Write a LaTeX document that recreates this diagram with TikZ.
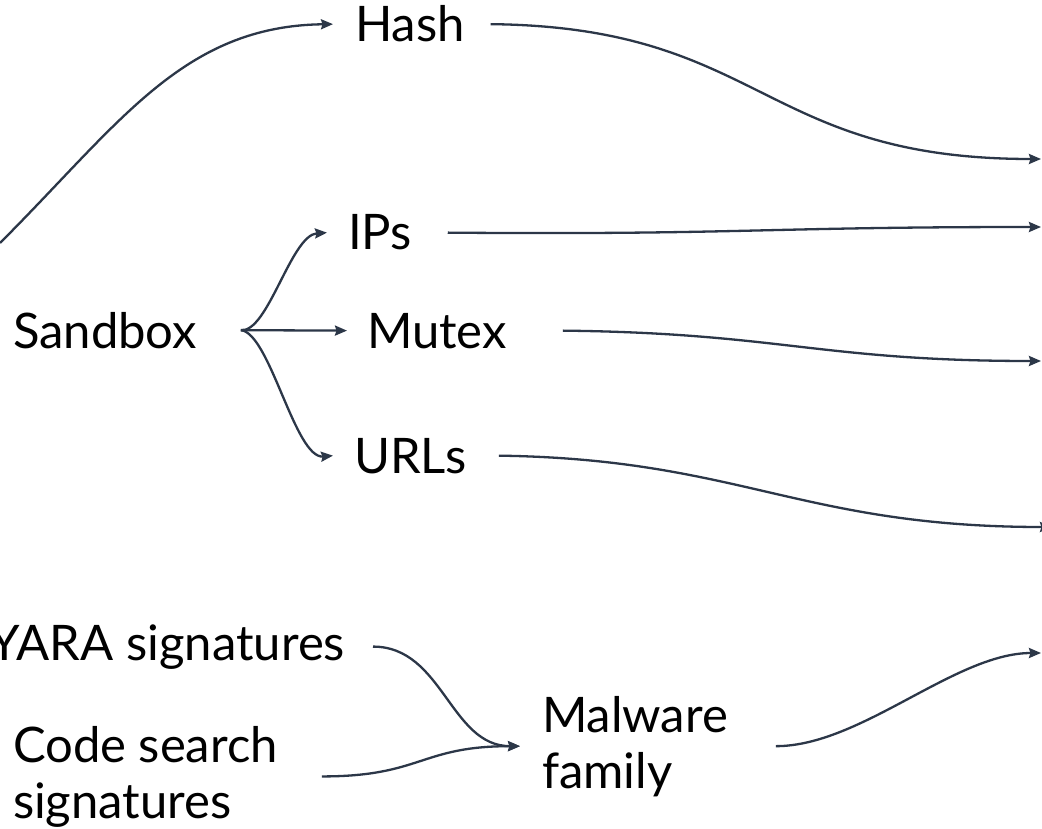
\documentclass[tikz,border=0pt]{standalone}
\usepackage{fontspec}
\setmainfont{Lato}
\usetikzlibrary{arrows.meta}
\definecolor{edgecol}{RGB}{44,55,72}
\begin{document}
\begin{tikzpicture}[x=1pt,y=-1pt,
  lbl/.style={inner sep=0pt,outer sep=0pt,font=\fontsize{49}{56}\selectfont,text=black},
  arr/.style={draw=edgecol,line width=2.3pt,-{Stealth[length=12pt,width=10pt,inset=1.5pt]}}]
\useasboundingbox (0,0) rectangle (1042,829);
\fill[white] (0,0) rectangle (1042,829);
% nodes
\node[lbl,anchor=base west] (hash) at (355,42) {Hash};
\node[lbl,anchor=base west] (ips) at (348,250) {IPs};
\node[lbl,anchor=base west] (sandbox) at (13,348) {Sandbox};
\node[lbl,anchor=base west] (mutex) at (367,348) {Mutex};
\node[lbl,anchor=base west] (urls) at (354,473) {URLs};
\node[lbl,anchor=base east] (yara) at (345,660) {YARA signatures};
\node[lbl,anchor=base west,align=left] (code) at (13,818) {Code search\\signatures};
\node[lbl,anchor=base west,align=left] (malware) at (542,788) {Malware\\family};
% free ends
\coordinate (in) at (0,243);
\coordinate (o1) at (1041,159);
\coordinate (o2) at (1041,227);
\coordinate (o3) at (1041,361);
\coordinate (o4) at (1052,527);
\coordinate (o5) at (1041,653);
\coordinate (fork) at ([xshift=44pt]sandbox.east);
\coordinate (codeout) at ([xshift=44pt]code.east);
\coordinate (malin) at ([xshift=-22pt]malware.west);
% connectors
\draw[arr] (in) .. controls (120,123) and (183,26) .. ([xshift=-22pt]hash.west);
\draw[arr] ([xshift=26pt]hash.east) .. controls (764,27) and (760,159) .. (o1);
\draw[arr] (fork) .. controls (268,333) and (291,235) .. ([xshift=-21pt]ips.west);
\draw[arr] (fork) -- ([xshift=-20pt]mutex.west);
\draw[arr] (fork) .. controls (270,333) and (295,459) .. ([xshift=-21pt]urls.west);
\draw[arr] ([xshift=36pt]ips.east) .. controls (740,235) and (760,227) .. (o2);
\draw[arr] ([xshift=56pt]mutex.east) .. controls (780,333) and (820,361) .. (o3);
\draw[arr] ([xshift=32pt]urls.east) .. controls (740,459) and (800,527) .. (o4);
\draw[arr] ([xshift=28pt]yara.east) .. controls +(70,0) and +(-70,0) .. (malin);
\draw[arr] (codeout) .. controls +(100,0) and +(-100,0) .. (malin);
\draw[arr] ([xshift=48pt]malware.east) .. controls +(85,0) and (955,653) .. (o5);
\end{tikzpicture}
\end{document}
